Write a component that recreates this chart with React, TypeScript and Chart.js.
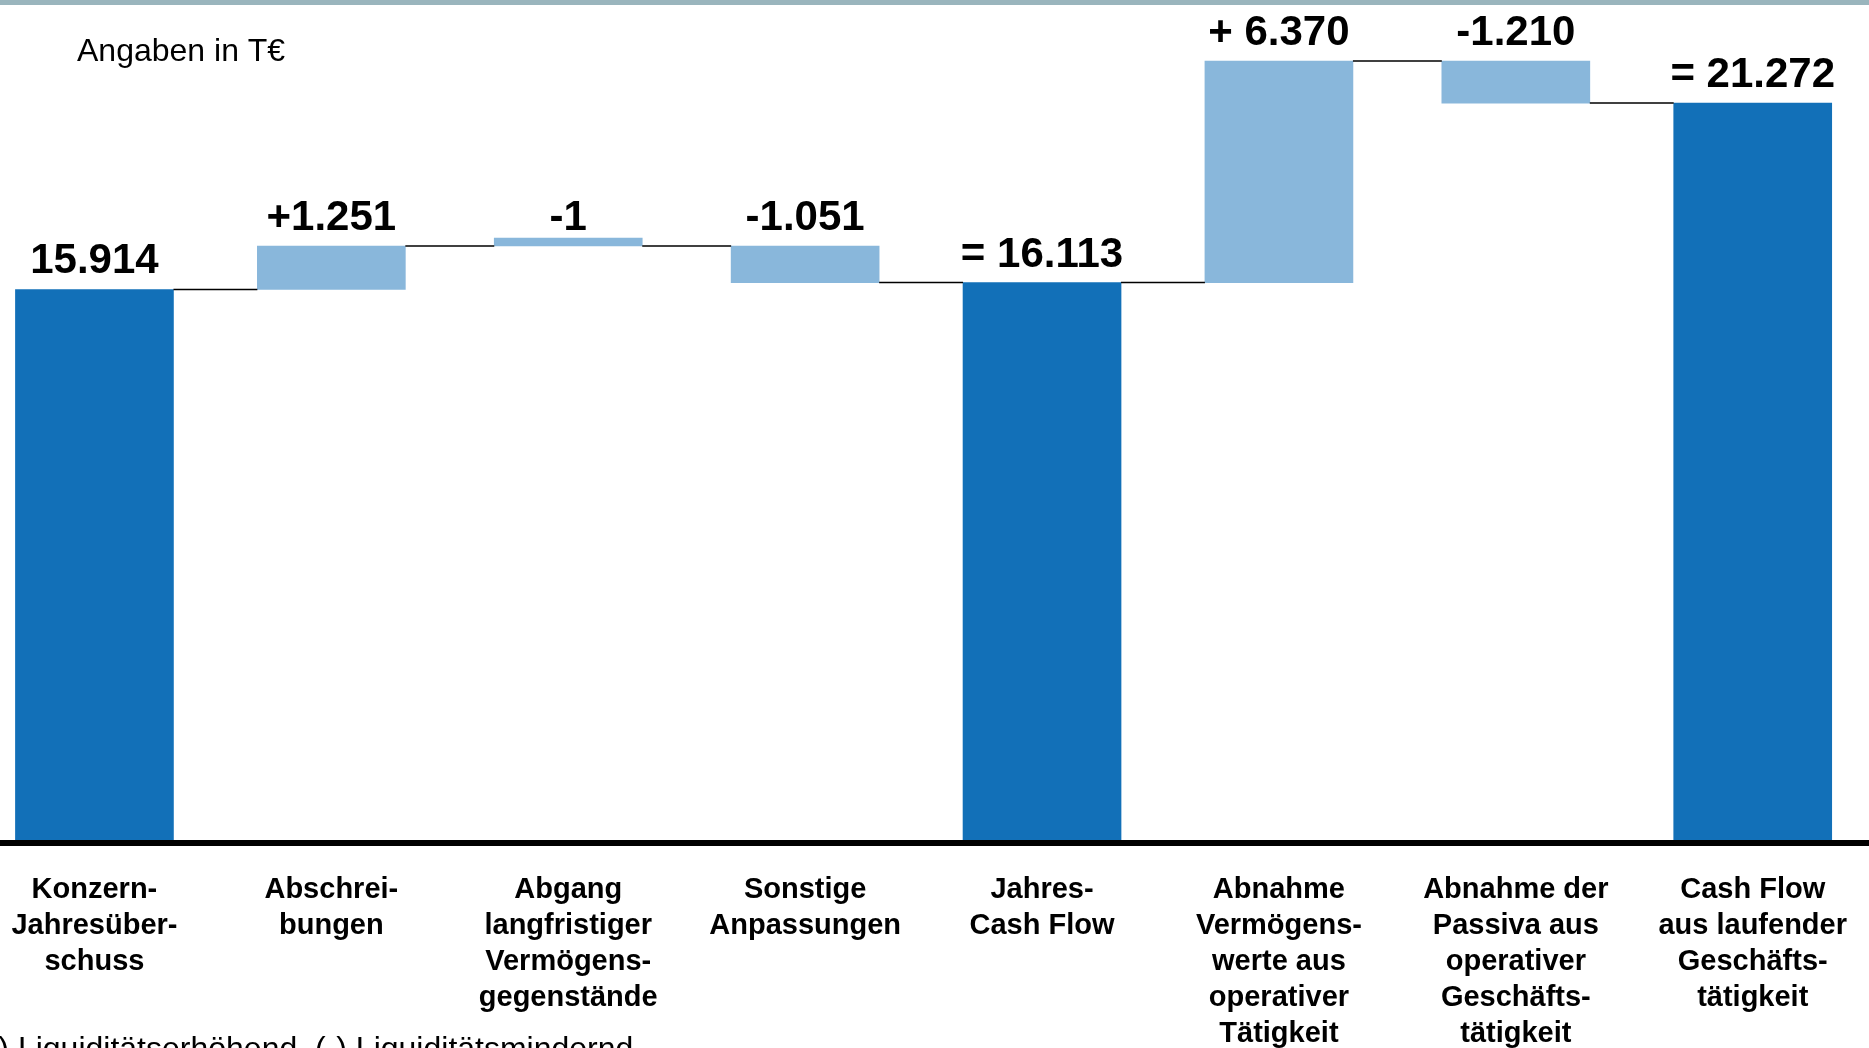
import React, { useEffect, useRef } from "react";
import { Chart, registerables } from "chart.js";

Chart.register(...registerables);

// Waterfall: Konzern-Jahresüberschuss -> Cash Flow aus laufender Geschäftstätigkeit (T€)
const categories: string[][] = [
  ["Konzern-", "Jahresüber-", "schuss"],
  ["Abschrei-", "bungen"],
  ["Abgang", "langfristiger", "Vermögens-", "gegenstände"],
  ["Sonstige", "Anpassungen"],
  ["Jahres-", "Cash Flow"],
  ["Abnahme", "Vermögens-", "werte aus", "operativer", "Tätigkeit"],
  ["Abnahme der", "Passiva aus", "operativer", "Geschäfts-", "tätigkeit"],
  ["Cash Flow", "aus laufender", "Geschäfts-", "tätigkeit"],
];

// "total" bars start at zero, "delta" bars float on the running sum
const kinds: string[] = ["total", "delta", "delta", "delta", "total", "delta", "delta", "total"];
const amounts: number[] = [15914, 1251, -1, -1051, 16113, 6370, -1210, 21272];
const valueLabels: string[] = ["15.914", "+1.251", "-1", "-1.051", "= 16.113", "+ 6.370", "-1.210", "= 21.272"];

const unitCaption = "Angaben in T€";
const footnote = "(+) Liquiditätserhöhend, (-) Liquiditätsmindernd";

const DARK_BLUE = "#1270b8";
const LIGHT_BLUE = "#89b7db";
const STRIP = "#9ab5bd";
const FONT = '"Liberation Sans", Arial, sans-serif';

const W = 1869;
const H = 1048;
// the canvas reaches a little past both page edges so the outer bars sit close to them
const SHIFT = 24;
const CANVAS_W = 1900;

// floating ranges and the running level after each step
const ranges: [number, number][] = [];
const levels: number[] = [];
{
  let running = 0;
  amounts.forEach((v, i) => {
    if (kinds[i] === "total") {
      ranges.push([0, v]);
      running = v;
    } else {
      ranges.push([running, running + v]);
      running += v;
    }
    levels.push(running);
  });
}

const decor = {
  id: "waterfallDecor",
  beforeDraw(chart: any) {
    const { ctx } = chart;
    ctx.save();
    ctx.fillStyle = "#ffffff";
    ctx.fillRect(0, 0, chart.width, chart.height);
    ctx.fillStyle = STRIP;
    ctx.fillRect(0, 0, chart.width, 5);
    ctx.restore();
  },
  afterDatasetsDraw(chart: any) {
    const { ctx } = chart;
    const yScale = chart.scales.y;
    const totals = chart.getDatasetMeta(0).data;
    const steps = chart.getDatasetMeta(1).data;
    const barAt = (i: number) => (kinds[i] === "total" ? totals[i] : steps[i]);

    ctx.save();
    // connector lines between neighbouring bars
    ctx.strokeStyle = "#000000";
    ctx.lineWidth = 1.5;
    for (let i = 0; i < amounts.length - 1; i++) {
      const a = barAt(i);
      const b = barAt(i + 1);
      const py = yScale.getPixelForValue(levels[i]);
      ctx.beginPath();
      ctx.moveTo(a.x + a.width / 2, py);
      ctx.lineTo(b.x - b.width / 2, py);
      ctx.stroke();
    }

    // value labels above each bar
    ctx.fillStyle = "#000000";
    ctx.font = `bold 42px ${FONT}`;
    ctx.textAlign = "center";
    ctx.textBaseline = "alphabetic";
    valueLabels.forEach((txt, i) => {
      const top = Math.max(ranges[i][0], ranges[i][1]);
      ctx.fillText(txt, barAt(i).x, yScale.getPixelForValue(top) - 16);
    });

    // unit caption and footnote
    ctx.font = `32px ${FONT}`;
    ctx.textAlign = "left";
    ctx.fillText(unitCaption, 77 + SHIFT, 61);
    ctx.fillText(footnote, -31 + SHIFT, 1059);
    ctx.restore();
  },
};

export default function App() {
  const canvasRef = useRef<HTMLCanvasElement | null>(null);

  useEffect(() => {
    const canvas = canvasRef.current;
    if (!canvas) return;
    const chart = new Chart(canvas, {
      type: "bar",
      data: {
        labels: categories as any,
        datasets: [
          {
            label: "Summe",
            data: ranges.map((r, i) => (kinds[i] === "total" ? r : null)) as any,
            backgroundColor: DARK_BLUE,
            borderWidth: 0,
            barThickness: 158,
            grouped: false,
          },
          {
            label: "Veränderung",
            data: ranges.map((r, i) => (kinds[i] === "delta" ? r : null)) as any,
            backgroundColor: LIGHT_BLUE,
            borderWidth: 0,
            barThickness: 148,
            minBarLength: 8,
            grouped: false,
          },
        ],
      },
      options: {
        responsive: false,
        animation: false,
        devicePixelRatio: 1,
        layout: { padding: { left: 0, right: 0, top: 10, bottom: 0 } },
        plugins: {
          legend: { display: false },
          tooltip: { enabled: false },
          title: { display: false },
        },
        scales: {
          x: {
            offset: true,
            grid: { display: false, drawTicks: false },
            border: { display: true, color: "#000000", width: 6, z: 1 },
            ticks: {
              autoSkip: false,
              maxRotation: 0,
              minRotation: 0,
              padding: 29,
              color: "#000000",
              font: { family: FONT, size: 29, weight: "bold", lineHeight: "36px" },
            },
            afterFit: (scale: any) => {
              scale.height = 205;
            },
          },
          y: {
            display: false,
            min: 0,
            max: 23950,
          },
        },
      },
      plugins: [decor],
    });
    return () => chart.destroy();
  }, []);

  return (
    <div
      style={{
        position: "fixed",
        left: 0,
        top: 0,
        width: W,
        height: H,
        overflow: "hidden",
        background: "#ffffff",
      }}
    >
      <canvas
        ref={canvasRef}
        width={CANVAS_W}
        height={H}
        style={{ display: "block", position: "absolute", left: -SHIFT, top: 0 }}
      />
    </div>
  );
}
